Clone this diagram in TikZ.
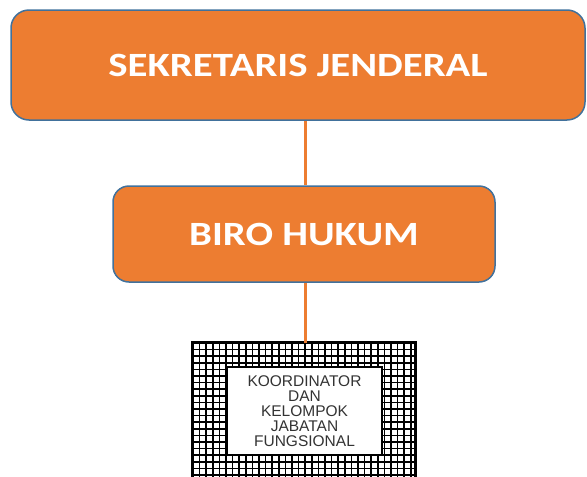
\documentclass[tikz,border=0pt]{standalone}
\usepackage{fontspec}
\usepackage{graphicx}
\setmainfont{Carlito}
\newfontfamily\arialf{Liberation Sans}
\definecolor{offorange}{HTML}{ED7D31}
\definecolor{offblue}{HTML}{41719C}
\begin{document}
\begin{tikzpicture}[x=1pt,y=-1pt,
  orgbox/.style={draw=offblue,line width=1.5pt,fill=offorange,rounded corners=18pt,
    text=white,font=\bfseries\fontsize{34}{38}\selectfont,inner sep=0pt},
  hatchbox/.style={fill=white,inner sep=0pt},
  hatchline/.style={line width=1.7pt,black},
  hatchborder/.style={draw=black,line width=3pt},
  innerbox/.style={draw=black,line width=2pt,fill=white,inner sep=0pt,align=center,
    font=\arialf\fontsize{15.5}{15}\selectfont,text=black!80},
  link/.style={draw=offorange,line width=3pt}]
\useasboundingbox (0,0) rectangle (587,477);
\clip (0,0) rectangle (587,477);
\node[orgbox,minimum width=574pt,minimum height=110pt] (sek) at (298,65) {\raisebox{-1pt}{\scalebox{1.2}[1]{SEKRETARIS JENDERAL}}};
\node[orgbox,minimum width=382pt,minimum height=96pt,rounded corners=16pt] (biro) at (304,234) {\raisebox{-2pt}{\scalebox{1.2}[1]{BIRO HUKUM}}};
\node[hatchbox,minimum width=222pt,minimum height=136pt] (kel) at (304,411) {};
\begin{scope}
  \clip (kel.north west) rectangle (kel.south east);
  \foreach \i in {0,...,34}{
    \draw[hatchline] (193+\i*6.6,330) -- (193+\i*6.6,490);
  }
  \foreach \j in {0,...,22}{
    \draw[hatchline] (180,343+\j*6.6) -- (430,343+\j*6.6);
  }
\end{scope}
\draw[hatchborder] (kel.north west) rectangle (kel.south east);
\node[innerbox,minimum width=155pt,minimum height=88pt] (inner) at (304.5,411) {KOORDINATOR\\DAN\\KELOMPOK\\JABATAN\\FUNGSIONAL};
\draw[link] (sek.south -| 305,0) -- (biro.north -| 305,0);
\draw[link] (biro.south -| 305,0) -- (kel.north -| 305,0);
\end{tikzpicture}
\end{document}
